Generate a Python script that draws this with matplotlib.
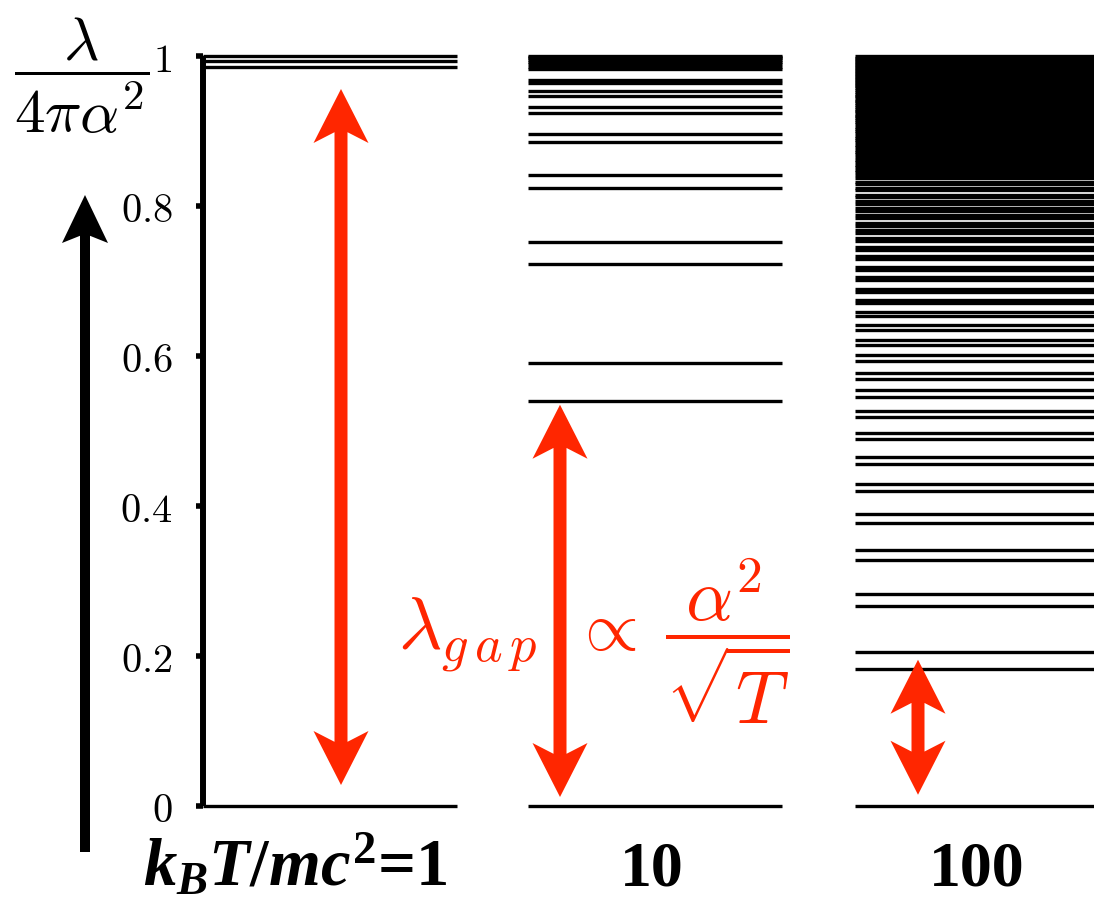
import matplotlib
matplotlib.use('Agg')
import matplotlib.pyplot as plt
from matplotlib.patches import Polygon

# ---------------- data ----------------
temperature_labels = [r'$k_BT/mc^2$=1', '10', '100']
levels_T1 = [0.0, 0.986, 0.993, 1.0]
levels_T10 = [0.0, 0.540, 0.591, 0.723, 0.752, 0.824, 0.841, 0.885, 0.896,
              0.924, 0.932, 0.947, 0.954, 0.964, 0.968, 0.983, 0.986, 0.989,
              0.992, 0.995, 0.997, 0.999, 1.0]
levels_T100 = [0.0, 0.183, 0.205, 0.267, 0.283, 0.328, 0.341, 0.377, 0.389,
               0.420, 0.429, 0.456, 0.466, 0.489, 0.498, 0.519, 0.527,
               0.545, 0.554, 0.570, 0.578, 0.593, 0.601, 0.615, 0.621,
               0.635, 0.641, 0.653, 0.659, 0.670, 0.674, 0.686, 0.690,
               0.701, 0.705, 0.715, 0.719, 0.729, 0.733, 0.741, 0.745,
               0.753, 0.757, 0.764, 0.768, 0.774, 0.778, 0.784, 0.788,
               0.794, 0.798, 0.803, 0.807, 0.812, 0.815, 0.821, 0.824,
               0.829, 0.832, 0.838, 0.841, 0.845, 0.848, 0.852, 0.855,
               0.859, 0.862, 0.866, 0.869, 0.872, 0.875, 0.879, 0.882,
               0.885, 0.888, 0.891, 0.894, 0.897, 0.900, 0.903, 0.906,
               0.909, 0.912, 0.915, 0.917, 0.920, 0.922, 0.925, 0.927,
               0.930, 0.932, 0.935, 0.937, 0.940, 0.942, 0.945, 0.947,
               0.950, 0.952, 0.955, 0.957, 0.960, 0.962, 0.964, 0.966,
               0.968, 0.970, 0.972, 0.974, 0.976, 0.978, 0.980, 0.982,
               0.984, 0.986, 0.988, 0.990, 0.992, 0.994, 0.996, 0.998, 1.0]
gap_top = [0.956, 0.535, 0.195]
gap_bottom = [0.028, 0.012, 0.015]
yticks = [0, 0.2, 0.4, 0.6, 0.8, 1]
ytick_labels = ['$0$', '$0.2$', '$0.4$', '$0.6$', '$0.8$', '$1$']

# ---------------- style ----------------
W, H = 1094, 898
RED = '#ff2600'
plt.rcParams['mathtext.fontset'] = 'cm'
plt.rcParams['mathtext.rm'] = 'Liberation Serif:bold'
plt.rcParams['mathtext.it'] = 'Liberation Serif:italic:bold'
plt.rcParams['mathtext.bf'] = 'Liberation Serif:bold'

fig = plt.figure(figsize=(W / 100, H / 100), dpi=100)
ax = fig.add_axes([203 / W, 92 / H, (W - 203) / W, 750 / H])
PX_X = 254.0   # pixels per x unit
ax.set_xlim(0, (W - 203) / PX_X)
ax.set_ylim(0, 1)
for s in ['top', 'right', 'bottom']:
    ax.spines[s].set_visible(False)
ax.spines['left'].set_linewidth(4.3)
ax.spines['left'].set_capstyle('butt')
ax.set_xticks([])
ax.set_yticks(yticks)
ax.set_yticklabels(ytick_labels)
ax.tick_params(axis='y', direction='out', length=5, width=4, pad=17,
               labelsize=29)

col_start = [0.0, 1.28, 2.567]
col_width = 1.0
for levels, x0 in zip([levels_T1, levels_T10, levels_T100], col_start):
    ax.hlines(levels, x0, x0 + col_width, colors='black', linewidth=2.4,
              clip_on=False)


def double_arrow(ax, x, y0, y1, shaft_w, head_w, head_l, overhang, color):
    hb = head_l * (1 - overhang)
    pts = [(x, y1), (x + head_w / 2, y1 - head_l), (x + shaft_w / 2, y1 - hb),
           (x + shaft_w / 2, y0 + hb), (x + head_w / 2, y0 + head_l), (x, y0),
           (x - head_w / 2, y0 + head_l), (x - shaft_w / 2, y0 + hb),
           (x - shaft_w / 2, y1 - hb), (x - head_w / 2, y1 - head_l)]
    ax.add_patch(Polygon(pts, closed=True, facecolor=color, edgecolor='none',
                         clip_on=False, zorder=5))


def single_arrow(ax, x, y0, y1, shaft_w, head_w, head_l, overhang, color):
    hb = head_l * (1 - overhang)
    pts = [(x, y1), (x + head_w / 2, y1 - head_l), (x + shaft_w / 2, y1 - hb),
           (x + shaft_w / 2, y0), (x - shaft_w / 2, y0),
           (x - shaft_w / 2, y1 - hb), (x - head_w / 2, y1 - head_l)]
    ax.add_patch(Polygon(pts, closed=True, facecolor=color, edgecolor='none',
                         clip_on=False, zorder=5))


arrow_x = [(341 - 203) / PX_X, (560 - 203) / PX_X, (918 - 203) / PX_X]
for xa, yt, yb in zip(arrow_x, gap_top, gap_bottom):
    double_arrow(ax, xa, yb, yt, 13 / PX_X, 55 / PX_X, 54 / 750, 0.2, RED)

# black vertical arrow on the left
single_arrow(ax, (85 - 203) / PX_X, (806 - 852) / 750, (806 - 195) / 750,
             10 / PX_X, 46 / PX_X, 48 / 750, 0.15, 'black')


def ftext(xp, yp, s, **kw):
    return fig.text(xp / W, 1 - yp / H, s, **kw)


# y-axis label
ftext(82, 76, r'$\dfrac{\lambda}{4\pi\alpha^2}$', fontsize=44, ha='center',
      va='center')

# red formula
ftext(398, 650, r'$\lambda_{g\,a\,p}$', fontsize=54, color=RED, ha='left',
      va='baseline')
ftext(572, 650, r'$\propto$', fontsize=50, color=RED, ha='left',
      va='baseline')
ftext(727, 650, r'$\dfrac{\alpha^2}{\sqrt{T}}$', fontsize=53, color=RED,
      ha='center', va='baseline')

# bottom labels
lab_kw = dict(fontfamily='Liberation Serif', fontweight='bold',
              va='baseline', math_fontfamily='custom')
ftext(447, 886, temperature_labels[0], ha='right', fontsize=48, **lab_kw)
ftext(652, 886, temperature_labels[1], ha='center', fontsize=46, **lab_kw)
ftext(977, 886, temperature_labels[2], ha='center', fontsize=46, **lab_kw)

fig.savefig('out.png', dpi=100)
